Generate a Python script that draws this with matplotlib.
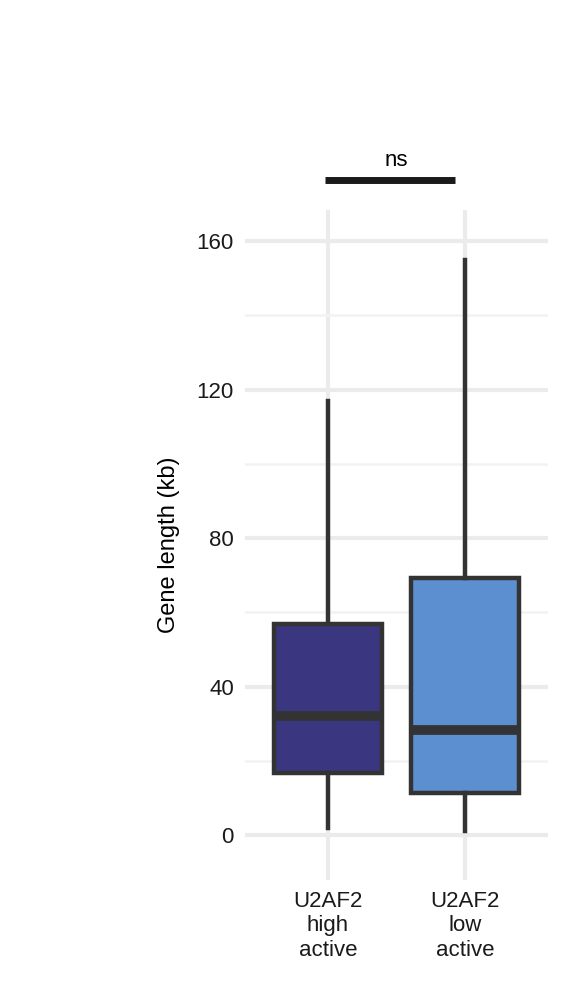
import matplotlib
matplotlib.use("Agg")
import matplotlib.pyplot as plt

categories = ["U2AF2\nhigh\nactive", "U2AF2\nlow\nactive"]
whislo = [2, 1]
q1 = [16.7, 11.3]
med = [32, 28.3]
q3 = [56.8, 69.2]
whishi = [117, 155]
colors = ["#3a3680", "#5b8fcf"]
yticks = [0, 40, 80, 120, 160]

plt.rcParams['font.family'] = ['Liberation Sans', 'DejaVu Sans']
fig = plt.figure(figsize=(5.64, 10.01), dpi=100)
ax = fig.add_axes([245/564, 121/1001, 303/564, 670/1001])

stats = [dict(whislo=whislo[i], q1=q1[i], med=med[i], q3=q3[i], whishi=whishi[i], fliers=[], label=categories[i]) for i in range(2)]
bp = ax.bxp(stats, positions=[1, 2], widths=0.79, patch_artist=True, showcaps=False,
            boxprops=dict(linewidth=3.2, edgecolor="#333333"),
            whiskerprops=dict(linewidth=3.2, color="#333333"),
            medianprops=dict(linewidth=7, color="#333333", solid_capstyle="butt"))
for p, c in zip(bp['boxes'], colors):
    p.set_facecolor(c)

ax.set_xlim(0.394, 2.606)
ax.set_ylim(-12.1, 168.4)
ax.set_yticks(yticks)
ax.set_yticks([20, 60, 100, 140], minor=True)
ax.grid(True, which='major', color="#ebebeb", linewidth=3)
ax.grid(True, which='minor', axis='y', color="#f2f2f2", linewidth=1.8)
ax.set_axisbelow(True)
for s in ax.spines.values():
    s.set_visible(False)
ax.tick_params(length=0, labelsize=16, colors="#1a1a1a", pad=8)
ax.tick_params(axis='y', which='minor', length=0)
ax.set_ylabel("Gene length (kb)", fontsize=17, labelpad=12)

ax.plot([0.98, 1.93], [176.4, 176.4], color="#1a1a1a", linewidth=5, clip_on=False, solid_capstyle="butt")
ax.text(1.5, 179, "ns", ha='center', va='bottom', fontsize=16, clip_on=False)

fig.savefig("out.png", dpi=100)
